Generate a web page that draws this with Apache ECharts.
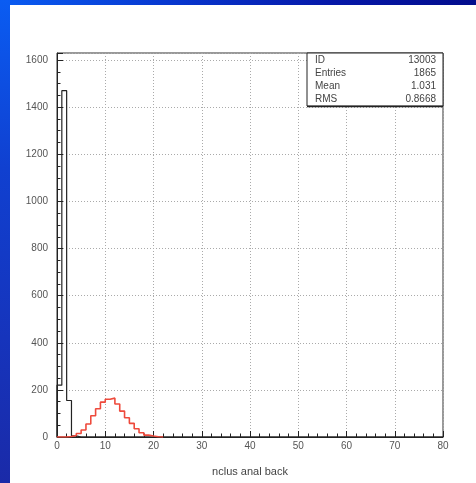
<!DOCTYPE html>
<html>
<head>
<meta charset="utf-8">
<script src="https://cdn.jsdelivr.net/npm/echarts@6/dist/echarts.min.js"></script>
<style>
html,body{margin:0;padding:0;width:476px;height:483px;overflow:hidden;}
body{position:relative;background:#0a2ab8;}
#topband{position:absolute;left:0;top:0;width:476px;height:5px;background:linear-gradient(to right,#0a5cf2 0%,#0838d0 35%,#0618a8 70%,#020c8c 100%);}
#leftband{position:absolute;left:0;top:0;width:10px;height:483px;background:linear-gradient(to bottom,#0a5cf2 0%,#1040d0 35%,#1634bc 70%,#1a2aa8 100%);}
#panel{position:absolute;left:10px;top:5px;width:466px;height:478px;background:#fff;}
#chart{position:absolute;left:0;top:0;width:476px;height:483px;}
</style>
</head>
<body>
<div id="topband"></div>
<div id="leftband"></div>
<div id="panel"></div>
<div id="chart"></div>
<script>
// Histogram bin contents, bins [k, k+1) starting at k = 0
const blackCounts = [220, 1470, 155, 5];
const redCounts = [0, 0, 2, 6, 15, 30, 55, 90, 120, 148, 160, 165, 140, 110, 82, 58, 35, 18, 8, 4, 1, 0];
const xTicks = [0, 10, 20, 30, 40, 50, 60, 70, 80];
const yTicks = [0, 200, 400, 600, 800, 1000, 1200, 1400, 1600];
const statsLabels = ['ID', 'Entries', 'Mean', 'RMS'];
const statsValues = ['13003', '1865', '1.031', '0.8668'];
const xTitle = 'nclus anal back';
const xMax = 80;
const yMax = 1630;

function histPoints(counts, nBins) {
  const pts = [[0, 0]];
  for (let k = 0; k < nBins; k++) {
    pts.push([k, k < counts.length ? counts[k] : 0]);
  }
  pts.push([nBins, 0]);
  return pts;
}

const chart = echarts.init(document.getElementById('chart'), null, {renderer: 'canvas'});
const font = '"Liberation Sans", Arial, sans-serif';

const statsGraphics = [];
const boxL = 307, boxR = 443, boxT = 53, boxB = 106;
statsGraphics.push({
  type: 'rect', shape: {x: boxL, y: boxT, width: boxR - boxL, height: boxB - boxT},
  style: {fill: '#fff', stroke: '#222', lineWidth: 1}, z: 100
});
statsGraphics.push({
  type: 'line', shape: {x1: boxL, y1: boxB + 0.5, x2: boxR, y2: boxB + 0.5},
  style: {stroke: '#222', lineWidth: 1.5}, z: 101
});
statsLabels.forEach((lab, i) => {
  const y = 60 + i * 13;
  statsGraphics.push({type: 'text', x: 315, y: y, z: 102,
    style: {text: lab, font: '10px ' + font, fill: '#444', textVerticalAlign: 'middle', textAlign: 'left'}});
  statsGraphics.push({type: 'text', x: 436, y: y, z: 102,
    style: {text: statsValues[i], font: '10px ' + font, fill: '#444', textVerticalAlign: 'middle', textAlign: 'right'}});
});

chart.setOption({
  animation: false,
  backgroundColor: 'transparent',
  grid: {left: 57, right: 33, top: 53, bottom: 46, show: true, borderColor: '#333', borderWidth: 1, backgroundColor: 'transparent'},
  xAxis: {
    type: 'value', min: 0, max: xMax, interval: 10,
    axisLine: {show: true, onZero: false, lineStyle: {color: '#222', width: 1}},
    axisTick: {show: true, inside: true, length: 6, lineStyle: {color: '#222'}},
    minorTick: {show: true, splitNumber: 5, length: 3.5, lineStyle: {color: '#222'}},
    axisLabel: {margin: 4, color: '#555', fontSize: 10, fontFamily: font,
      formatter: v => xTicks.indexOf(v) >= 0 ? String(v) : ''},
    splitLine: {show: true, lineStyle: {color: '#aaa', type: [1, 2], width: 1}},
    name: xTitle, nameLocation: 'middle', nameGap: 29,
    nameTextStyle: {color: '#444', fontSize: 11, fontFamily: font}
  },
  yAxis: {
    type: 'value', min: 0, max: yMax, interval: 200,
    axisLine: {show: true, lineStyle: {color: '#222', width: 1}},
    axisTick: {show: true, inside: true, length: 6, lineStyle: {color: '#222'}},
    minorTick: {show: true, splitNumber: 4, length: 3.5, lineStyle: {color: '#222'}},
    axisLabel: {margin: 9, color: '#555', fontSize: 10, fontFamily: font,
      formatter: v => yTicks.indexOf(v) >= 0 ? String(v) : ''},
    splitLine: {show: true, lineStyle: {color: '#aaa', type: [1, 2], width: 1}}
  },
  series: [
    {
      type: 'line', step: 'end', data: histPoints(blackCounts, xMax),
      showSymbol: false, symbol: 'none',
      lineStyle: {color: '#222', width: 1.2}, z: 3, silent: true
    },
    {
      type: 'line', step: 'end', data: histPoints(redCounts, redCounts.length),
      showSymbol: false, symbol: 'none',
      lineStyle: {color: '#ee4a3c', width: 1.6}, z: 4, silent: true
    }
  ],
  graphic: statsGraphics
});
</script>
</body>
</html>
